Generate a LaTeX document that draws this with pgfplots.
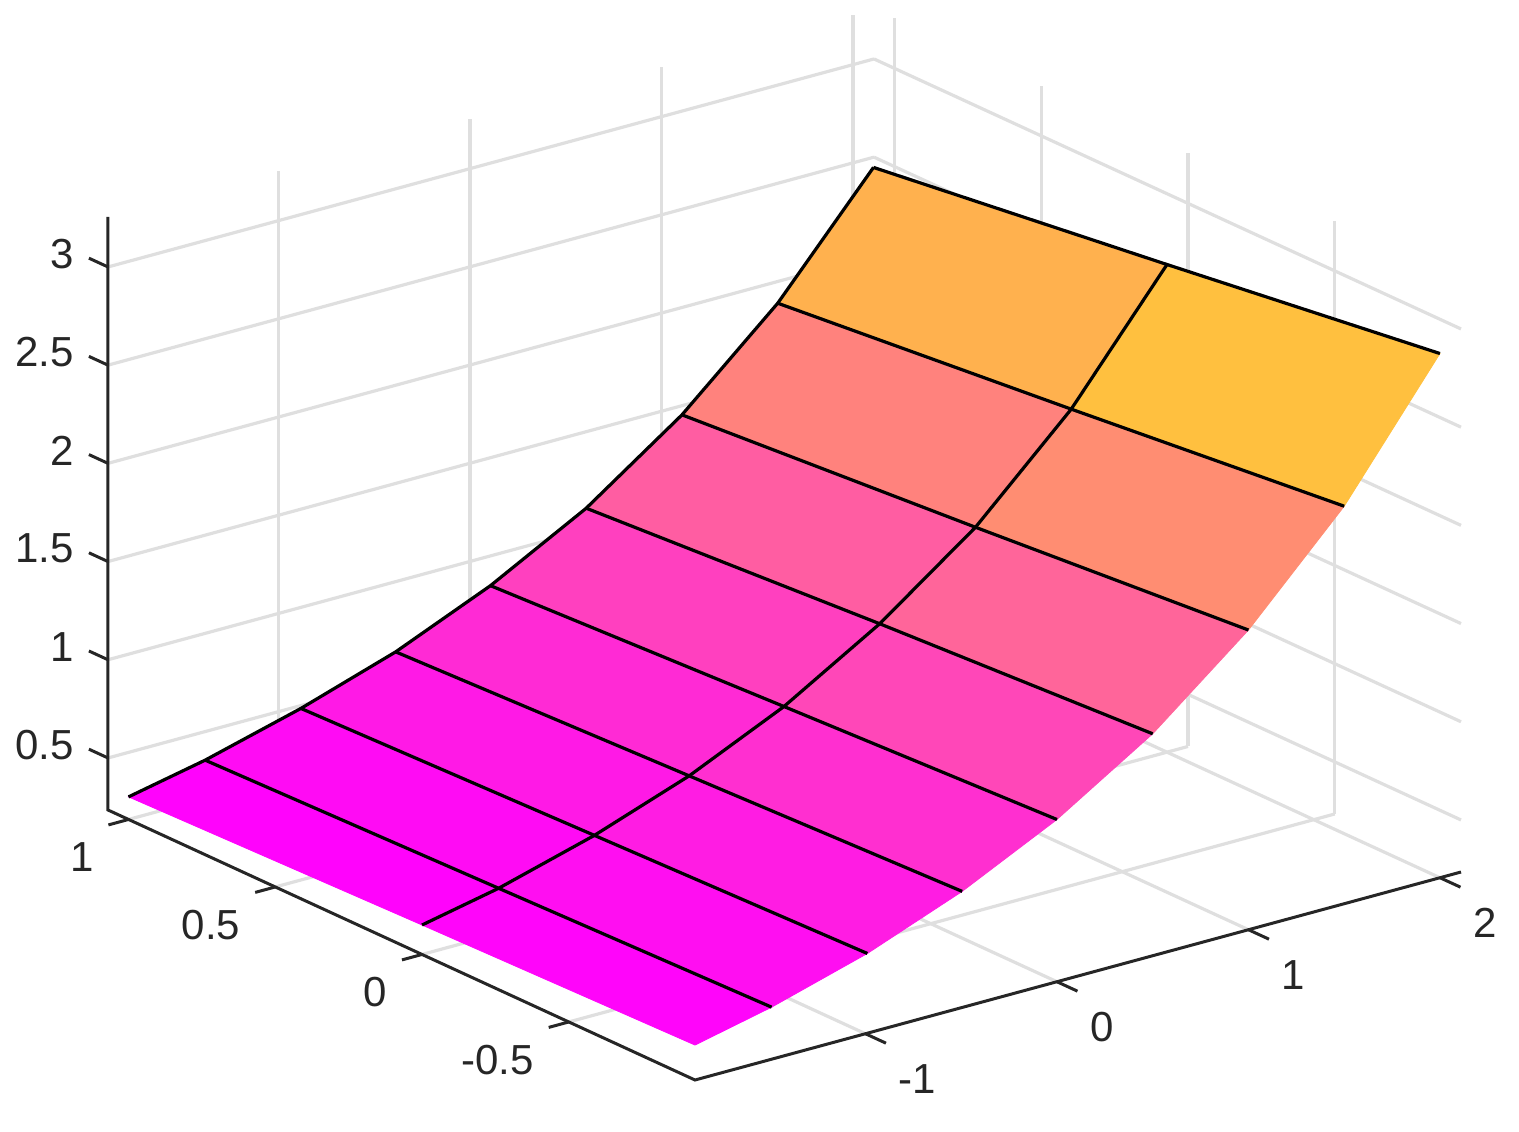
\documentclass[border=0pt]{standalone}
\usepackage{fontspec}
\setmainfont{Liberation Sans}
\usepackage{pgfplots}
\pgfplotsset{compat=1.18}
\usetikzlibrary{calc}
\definecolor{axc}{RGB}{38,38,38}
\definecolor{grc}{RGB}{223,223,223}
\pgfplotstableread{
x y z
-1.89 -0.93 0.413
-1.49 -0.93 0.500
-0.99 -0.93 0.641
-0.495 -0.93 0.826
0 -0.93 1.061
0.5 -0.93 1.365
1 -0.93 1.761
1.5 -0.93 2.259
2 -0.93 2.904

-1.89 0 0.385
-1.49 0 0.466
-0.99 0 0.603
-0.495 0 0.775
0 0 0.997
0.5 0 1.286
1 0 1.645
1.5 0 2.114
2 0 2.718

-1.89 1 0.350
-1.49 1 0.431
-0.99 1 0.562
-0.495 1 0.719
0 1 0.925
0.5 1 1.187
1 1 1.530
1.5 1 1.966
2 1 2.525
}\surfdata
\begin{document}
\begin{tikzpicture}
\begin{axis}[
  x={(95.75pt,26pt)}, y={(-146.75pt,67.5pt)}, z={(0pt,98.2pt)},
  xmin=-1.89, xmax=2.11, ymin=-0.93, ymax=1.07, zmin=0.235, zmax=3.255,
  xtick={-1,0,1,2}, ytick={-0.5,0,0.5,1}, ztick={0.5,1,1.5,2,2.5,3},
  minor tick num=0,
  axis line style={draw=none},
  grid=major, grid style={grc,line width=1.6pt},
  major tick style={draw=none},
  major tick length=0pt,
  clip=false,
  tick label style={text=axc,font=\fontsize{21}{24}\selectfont,/pgf/number format/assume math mode=true},
  xticklabel style={anchor=west,xshift=13pt,yshift=-22.5pt},
  yticklabel style={anchor=east,xshift=-14pt,yshift=-19pt},
  zticklabel style={anchor=east,xshift=-13.5pt,yshift=6.5pt},
  colormap={spring}{rgb255=(255,0,255) rgb255=(255,255,0)},
  point meta min=0.36, point meta max=2.904,
]
\addplot3[surf, shader=flat corner, mesh/rows=3, mesh/cols=9, point meta=\thisrow{z}] table[x=x,y=y,z=z] {\surfdata};
% mesh lines
\addplot3[black,line width=1.6pt] coordinates {(-1.49,-0.93,0.500)(-1.49,0,0.466)(-1.49,1,0.431)};
\addplot3[black,line width=1.6pt] coordinates {(-0.99,-0.93,0.641)(-0.99,0,0.603)(-0.99,1,0.562)};
\addplot3[black,line width=1.6pt] coordinates {(-0.495,-0.93,0.826)(-0.495,0,0.775)(-0.495,1,0.719)};
\addplot3[black,line width=1.6pt] coordinates {(0,-0.93,1.061)(0,0,0.997)(0,1,0.925)};
\addplot3[black,line width=1.6pt] coordinates {(0.5,-0.93,1.365)(0.5,0,1.286)(0.5,1,1.187)};
\addplot3[black,line width=1.6pt] coordinates {(1,-0.93,1.761)(1,0,1.645)(1,1,1.530)};
\addplot3[black,line width=1.6pt] coordinates {(1.5,-0.93,2.259)(1.5,0,2.114)(1.5,1,1.966)};
\addplot3[black,line width=1.6pt] coordinates {(2,-0.93,2.904)(2,0,2.718)(2,1,2.525)};
\addplot3[black,line width=1.6pt] coordinates {(-1.89,0,0.385)(-1.49,0,0.466)(-0.99,0,0.603)(-0.495,0,0.775)(0,0,0.997)(0.5,0,1.286)(1,0,1.645)(1.5,0,2.114)(2,0,2.718)};
\addplot3[black,line width=1.6pt] coordinates {(-1.89,1,0.350)(-1.49,1,0.431)(-0.99,1,0.562)(-0.495,1,0.719)(0,1,0.925)(0.5,1,1.187)(1,1,1.530)(1.5,1,1.966)(2,1,2.525)};
% axis lines
\addplot3[axc,line width=1.5pt] coordinates {(-1.89,1.07,3.255)(-1.89,1.07,0.235)(-1.89,-0.93,0.235)(2.11,-0.93,0.235)};
% ticks
\addplot3[axc,line width=1.5pt] coordinates {(-1,-0.93,0.235)(-1,-1.0,0.235)};
\addplot3[axc,line width=1.5pt] coordinates {(0,-0.93,0.235)(0,-1.0,0.235)};
\addplot3[axc,line width=1.5pt] coordinates {(1,-0.93,0.235)(1,-1.0,0.235)};
\addplot3[axc,line width=1.5pt] coordinates {(2,-0.93,0.235)(2,-1.0,0.235)};
\addplot3[axc,line width=1.5pt] coordinates {(-1.89,-0.5,0.235)(-1.995,-0.5,0.235)};
\addplot3[axc,line width=1.5pt] coordinates {(-1.89,0,0.235)(-1.995,0,0.235)};
\addplot3[axc,line width=1.5pt] coordinates {(-1.89,0.5,0.235)(-1.995,0.5,0.235)};
\addplot3[axc,line width=1.5pt] coordinates {(-1.89,1,0.235)(-1.995,1,0.235)};
\addplot3[axc,line width=1.5pt] coordinates {(-1.89,1.07,0.5)(-1.89,1.135,0.5)};
\addplot3[axc,line width=1.5pt] coordinates {(-1.89,1.07,1)(-1.89,1.135,1)};
\addplot3[axc,line width=1.5pt] coordinates {(-1.89,1.07,1.5)(-1.89,1.135,1.5)};
\addplot3[axc,line width=1.5pt] coordinates {(-1.89,1.07,2)(-1.89,1.135,2)};
\addplot3[axc,line width=1.5pt] coordinates {(-1.89,1.07,2.5)(-1.89,1.135,2.5)};
\addplot3[axc,line width=1.5pt] coordinates {(-1.89,1.07,3)(-1.89,1.135,3)};
\coordinate (fr) at (axis cs:-1.89,-0.93,0.235);
\end{axis}
\pgfresetboundingbox
\path[use as bounding box] ($(fr)+(-347.5pt,-25.5pt)$) rectangle ($(fr)+(412pt,540pt)$);
\end{tikzpicture}
\end{document}
